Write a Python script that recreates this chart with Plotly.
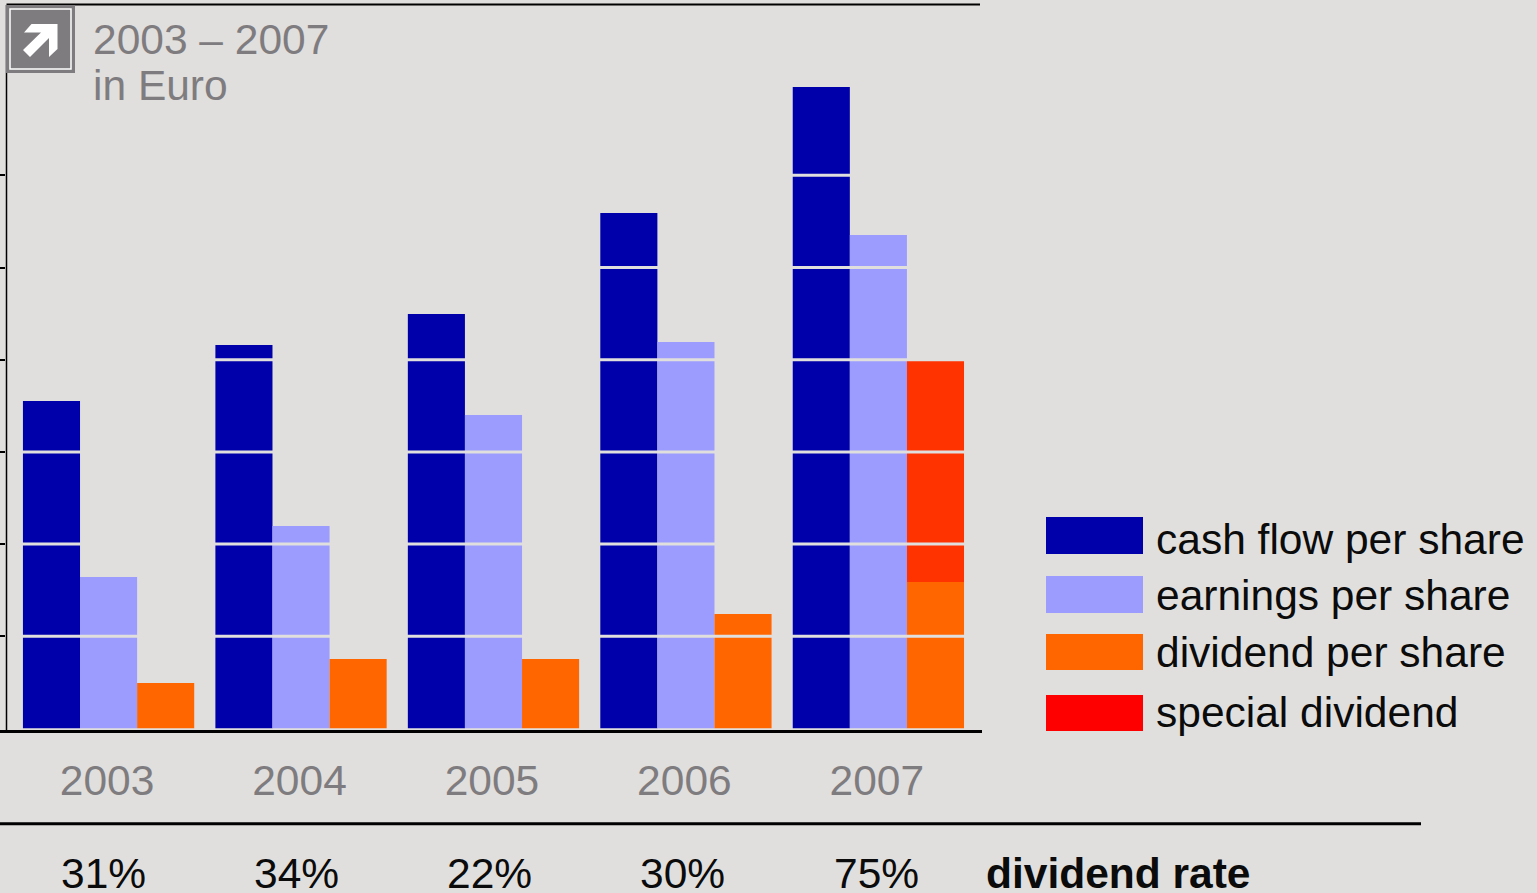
import plotly.graph_objects as go

years = [2003, 2004, 2005, 2006, 2007]
cash_flow = [3.552, 4.16, 4.496, 5.591, 6.958]
earnings = [1.643, 2.196, 3.40, 4.192, 5.352]
dividend = [0.493, 0.754, 0.754, 1.242, 1.589]
special_year = [2007]
special = [2.397]
dividend_rate = ["31%", "34%", "22%", "30%", "75%"]
grid_values = [1, 2, 3, 4, 5, 6]
legend_names = ["cash flow per share", "earnings per share", "dividend per share", "special dividend"]

BG = "#e0dfdd"
GREY = "#7f7c80"
INK = "#0b0b0b"
FONT = "Liberation Sans"
W, H = 1537, 893
L, R, T, B = 6, 980, 5, 728.5
UNIT_PX = 92.2


def px(x):
    return x / W


def py(y):
    return 1 - y / H


fig = go.Figure()
fig.add_bar(x=years, y=cash_flow, name=legend_names[0], marker_color="#0000aa", offsetgroup="a")
fig.add_bar(x=years, y=earnings, name=legend_names[1], marker_color="#9c9cff", offsetgroup="b")
fig.add_bar(x=years, y=dividend, name=legend_names[2], marker_color="#ff6600", offsetgroup="c")
fig.add_bar(x=special_year, y=special, base=[dividend[-1]], name=legend_names[3],
            marker_color="#ff3300", offsetgroup="c")
for tr in fig.data:
    tr.marker.line.width = 0

shapes = []
# Light rules run across the bars
for g in grid_values:
    shapes.append(dict(type="line", xref="paper", yref="y", x0=px(L), x1=px(R), y0=g, y1=g,
                       line=dict(color=BG, width=3), layer="above"))


def paper_line(x0, y0, x1, y1, width):
    shapes.append(dict(type="line", xref="paper", yref="paper", x0=px(x0), x1=px(x1),
                       y0=py(y0), y1=py(y1), line=dict(color="#000000", width=width), layer="above"))


def paper_rect(x0, y0, x1, y1, fill, line=None, lw=0):
    shapes.append(dict(type="rect", xref="paper", yref="paper", x0=px(x0), x1=px(x1),
                       y0=py(y0), y1=py(y1), fillcolor=fill,
                       line=dict(color=line or fill, width=lw), layer="above"))


paper_line(0, 731.5, 982, 731.5, 3)
paper_line(6.5, 4.5, 980, 4.5, 2)
paper_line(0, 823.8, 1421, 823.8, 3)
paper_line(6.5, 5, 6.5, 731, 1.5)

# Link badge in the top corner
paper_rect(6, 5, 75, 73, GREY)
paper_rect(10, 9, 71, 69, GREY, "#ffffff", 1.5)
arrow = [(24, 32.5), (31.5, 24), (57.5, 24), (57.5, 49), (49, 57), (49, 38), (30, 57), (23, 50), (41, 32.5)]
path = "M " + " L ".join(f"{px(a)},{py(b)}" for a, b in arrow) + " Z"
shapes.append(dict(type="path", xref="paper", yref="paper", path=path, fillcolor="#ffffff",
                   line=dict(width=0), layer="above"))

# Legend swatches
swatches = [(517, 554, "#0000aa"), (576, 613, "#9c9cff"), (634, 670, "#ff6600"), (695, 731, "#ff0000")]
for top, bottom, colour in swatches:
    paper_rect(1046, top, 1143, bottom, colour)

annotations = []


def label(x, y, text, colour=INK, size=42.5, anchor="left", bold=False):
    annotations.append(dict(xref="paper", yref="paper", x=px(x), y=py(y),
                            text=f"<b>{text}</b>" if bold else text, showarrow=False,
                            xanchor=anchor, yanchor="middle",
                            font=dict(family=FONT, size=size, color=colour)))


label(91, 39, "2003 – 2007", GREY)
label(91, 86, "in Euro", GREY)

legend_y = [539.5, 595.5, 652.5, 712.5]
for name, y in zip(legend_names, legend_y):
    label(1154, y, name)

rate_x = [103.5, 296.5, 489.5, 682.5, 876]
for x, rate in zip(rate_x, dividend_rate):
    label(x, 873, rate, anchor="center")
label(983.5, 873, "dividend rate", bold=True)

fig.update_layout(
    width=W, height=H, autosize=False,
    margin=dict(l=0, r=0, t=0, b=0, pad=0),
    paper_bgcolor=BG, plot_bgcolor=BG,
    barmode="group", bargap=0.11, bargroupgap=0,
    showlegend=False, shapes=shapes, annotations=annotations,
    font=dict(family=FONT),
)
fig.update_xaxes(
    domain=[L / W, R / W], range=[2002.467, 2007.528], tickmode="array",
    tickvals=[y - 0.008 for y in years], ticktext=[str(y) for y in years],
    ticks="", showgrid=False, zeroline=False, showline=False, automargin=False,
    tickfont=dict(family=FONT, size=42.5, color=GREY), ticklabelstandoff=23,
)
fig.update_yaxes(
    domain=[1 - B / H, 1 - T / H], range=[0, (B - T) / UNIT_PX], tickmode="array",
    tickvals=grid_values, ticktext=[""] * len(grid_values),
    ticks="outside", ticklen=6, tickwidth=2, tickcolor="#000000", showgrid=False, zeroline=False,
    showline=False, automargin=False,
)

fig.write_html("out.html", config={"displayModeBar": False})
